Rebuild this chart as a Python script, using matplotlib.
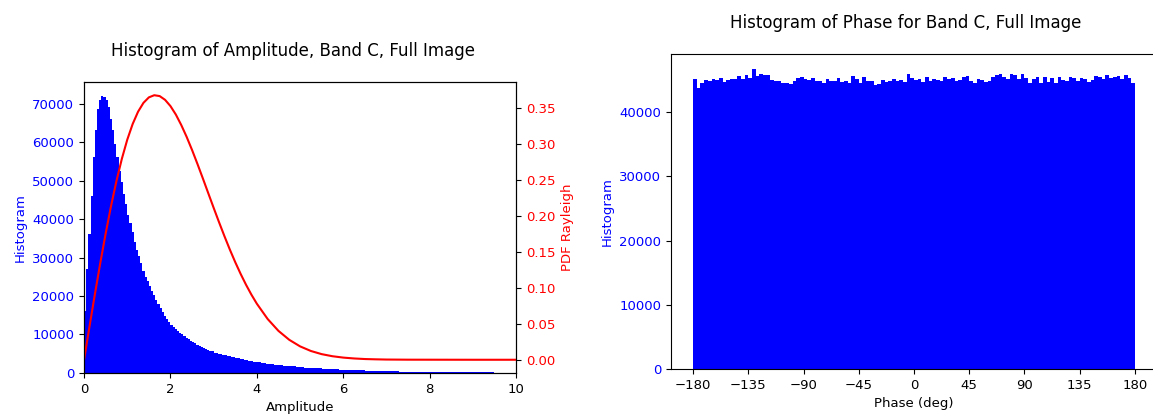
import numpy as np
import matplotlib
matplotlib.use("Agg")
import matplotlib.pyplot as plt

# amplitude histogram: fine bins up to 3, coarser in the tail
amp_edges_fine = [round(0.05 * i, 2) for i in range(61)]
amp_counts_fine = [
    16000, 27000, 36000, 46000, 56000, 63000, 68500, 71000, 72000, 71800,
    71000, 69000, 66000, 63000, 59500, 56000, 52500, 49500, 46500, 44000,
    41000, 39000, 36500, 34000, 32000, 30500, 28500, 26500, 25000, 23800,
    22500, 21300, 20200, 19000, 17800, 16800, 15800, 14800, 14000, 13200,
    12500, 11900, 11400, 10900, 10500, 10000, 9600, 9200, 8800, 8400,
    8000, 7700, 7400, 7100, 6800, 6600, 6300, 6100, 5800, 5600,
]
amp_edges_tail = [round(3.0 + 0.1 * i, 1) for i in range(1, 71)]
amp_counts_tail = [
    5300, 4950, 4600, 4300, 4050, 3800, 3550, 3350, 3150, 2950,
    2750, 2600, 2450, 2300, 2150, 2000, 1900, 1800, 1700, 1600,
    1500, 1420, 1350, 1280, 1200, 1130, 1060, 1000, 940, 890,
    840, 790, 740, 700, 660, 620, 580, 550, 520, 490,
    460, 430, 400, 380, 360, 340, 320, 300, 280, 270,
    250, 240, 230, 220, 210, 200, 190, 180, 170, 160,
    150, 145, 140, 135, 130, 125, 120, 115, 110, 105,
]

# Rayleigh pdf
pdf_x = [0, 0.125, 0.25, 0.375, 0.5, 0.625, 0.75, 0.875, 1.0, 1.125, 1.25,
         1.375, 1.5, 1.625, 1.75, 1.875, 2.0, 2.125, 2.25, 2.375, 2.5, 2.625,
         2.75, 2.875, 3.0, 3.125, 3.25, 3.375, 3.5, 3.625, 3.75, 3.875, 4.0,
         4.25, 4.5, 4.75, 5.0, 5.25, 5.5, 5.75, 6.0, 6.25, 6.5, 6.75, 7.0,
         7.5, 9.0, 10.0]
pdf_y = [0, 0.0458, 0.0908, 0.1342, 0.1754, 0.2137, 0.2484, 0.2792, 0.3057,
         0.3275, 0.3446, 0.3569, 0.3645, 0.3675, 0.3663, 0.3611, 0.3524,
         0.3406, 0.3261, 0.3096, 0.2914, 0.2720, 0.2519, 0.2314, 0.2110,
         0.1910, 0.1716, 0.1530, 0.1355, 0.1192, 0.1041, 0.0903, 0.0778,
         0.0566, 0.0401, 0.0277, 0.0186, 0.0122, 0.0078, 0.0049, 0.0030,
         0.0018, 0.0010, 0.0006, 0.0003, 0.0001, 0.0, 0.0]

# phase histogram, 3 degree bins from -180 to 180
phase_edges = list(range(-180, 181, 3))
phase_counts = [
    45200, 43700, 44600, 45000, 44900, 45100, 45000, 45300, 44700, 45000,
    45200, 45100, 45600, 45200, 45700, 45300, 46700, 45600, 45900, 45700,
    45800, 45000, 44900, 44800, 44500, 44600, 44300, 44800, 45300, 45500,
    45200, 45000, 45300, 44900, 44800, 44600, 45100, 44900, 44800, 45300,
    44700, 44800, 44500, 45600, 45200, 44600, 45400, 44800, 44900, 44200,
    44300, 45000, 44700, 44900, 45100, 44800, 45000, 44700, 45900, 45300,
    45000, 45100, 44700, 45500, 44900, 45200, 45000, 44800, 45500, 45100,
    45300, 44900, 45000, 45400, 45600, 44900, 44600, 45100, 45000, 44700,
    44900, 45400, 45800, 45900, 45400, 45100, 46000, 45700, 45200, 45900,
    45300, 44600, 45100, 45500, 44500, 45400, 44700, 45300, 44600, 45400,
    45000, 44900, 45400, 45300, 44800, 45300, 45100, 44700, 45000, 45600,
    45400, 45100, 45700, 45300, 45400, 45600, 45200, 45700, 45300, 44600,
]
phase_ticks = [-180, -135, -90, -45, 0, 45, 90, 135, 180]

fs = 9.5
fig = plt.figure(figsize=(11.53, 4.16), dpi=100)

# left: amplitude + rayleigh pdf
ax1 = fig.add_axes([0.0729, 0.1034, 0.3747, 0.6995])
edges = amp_edges_fine + amp_edges_tail
counts = amp_counts_fine + amp_counts_tail
centers = [(edges[i] + edges[i + 1]) / 2 for i in range(len(counts))]
ax1.hist(centers, bins=edges, weights=counts, color='blue', histtype='stepfilled')
ax1.set_xlim(0, 10)
ax1.set_xlabel('Amplitude', fontsize=fs)
ax1.set_ylabel('Histogram', color='blue', fontsize=fs)
ax1.tick_params(axis='y', labelcolor='blue', labelsize=fs)
ax1.tick_params(axis='x', labelsize=fs)
ax1.set_title('Histogram of Amplitude, Band C, Full Image', fontsize=12, pad=19, x=0.4826)

ax2 = ax1.twinx()
ax2.plot(pdf_x, pdf_y, color='red', lw=1.5)
ax2.set_ylabel('PDF Rayleigh', color='red', fontsize=fs)
ax2.tick_params(axis='y', labelcolor='red', labelsize=fs)

# right: phase
ax3 = fig.add_axes([0.582, 0.113, 0.4215, 0.757])
pcenters = [(phase_edges[i] + phase_edges[i + 1]) / 2 for i in range(len(phase_counts))]
ax3.hist(pcenters, bins=phase_edges, weights=phase_counts, color='blue', histtype='stepfilled')
ax3.set_xticks(phase_ticks)
ax3.set_xlabel('Phase (deg)', fontsize=fs)
ax3.set_ylabel('Histogram', color='blue', fontsize=fs)
ax3.tick_params(axis='y', labelcolor='blue', labelsize=fs)
ax3.tick_params(axis='x', labelsize=fs)
ax3.set_title('Histogram of Phase for Band C, Full Image', fontsize=12, pad=19, x=0.4835)

fig.savefig('out.png', dpi=100)
